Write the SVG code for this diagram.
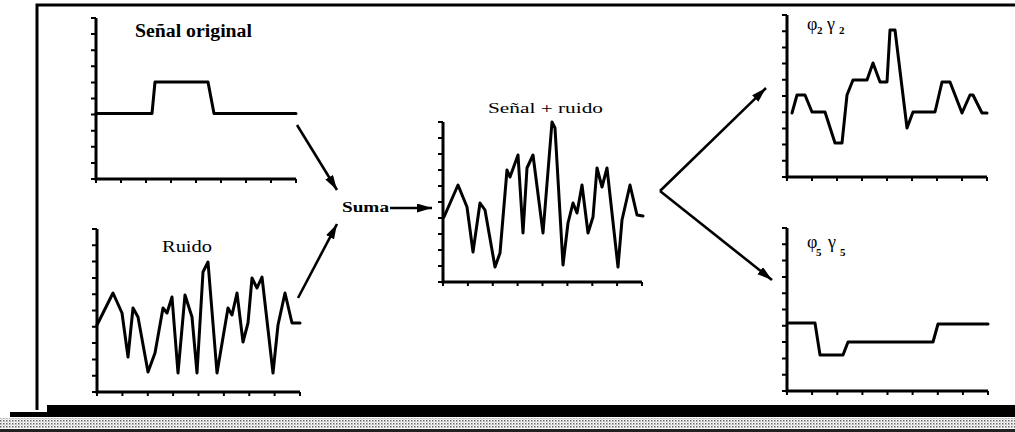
<svg xmlns="http://www.w3.org/2000/svg" width="1015" height="432" viewBox="0 0 1015 432">
<style>
.axis{fill:none;stroke:#000;stroke-width:3;stroke-linejoin:miter}
.tick{fill:none;stroke:#000;stroke-width:2}
.curve{fill:none;stroke:#000;stroke-width:3;stroke-linejoin:round;stroke-linecap:round}
.lbl{font-family:"Liberation Serif","Times New Roman",serif;fill:#000}
.conn{fill:none;stroke:#000;stroke-width:2.6}
</style>
<defs>
<marker id="ah" markerUnits="userSpaceOnUse" markerWidth="16" markerHeight="10" refX="15" refY="4.5" orient="auto">
<path d="M0,0 L15,4.5 L0,9 z" fill="#000"/>
</marker>
<pattern id="dots" width="3" height="3" patternUnits="userSpaceOnUse">
<rect width="3" height="3" fill="#fff"/>
<rect width="1.5" height="1.5" fill="#666"/>
<rect x="1.5" y="1.5" width="1" height="1" fill="#999"/>
</pattern>
</defs>
<rect width="1015" height="432" fill="#fff"/>
<g id="frame">
<path d="M37,410 V5 H1015" fill="none" stroke="#000" stroke-width="3"/>
<rect x="47" y="405" width="968" height="12" fill="#000"/>
<rect x="10" y="412" width="40" height="5" fill="#000"/>
<rect x="0" y="418" width="1015" height="10" fill="url(#dots)"/>
<rect x="0" y="429" width="1015" height="3" fill="#222"/>
</g>
<g id="senal-original">
<path class="axis" d="M96,18 V179 H296"/>
<path class="tick" d="M91,18h5M91,34.1h5M91,50.2h5M91,66.3h5M91,82.4h5M91,98.5h5M91,114.6h5M91,130.7h5M91,146.8h5M91,162.9h5M91,179h5M96,179v4M121,179v4M146,179v4M171,179v4M196,179v4M221,179v4M246,179v4M271,179v4M296,179v4"/>
<path class="curve" d="M96,113.5 H152 L155,82 H208 L214,113.5 H296"/>
<text class="lbl" x="135" y="37" font-size="18" font-weight="bold" textLength="117" lengthAdjust="spacingAndGlyphs">Señal original</text>
</g>
<g id="ruido">
<path class="axis" d="M97,229 V392 H300"/>
<path class="tick" d="M92,229h5M92,245.3h5M92,261.6h5M92,277.9h5M92,294.2h5M92,310.5h5M92,326.8h5M92,343.1h5M92,359.4h5M92,375.7h5M92,392h5M97,392v4M122.4,392v4M147.8,392v4M173.1,392v4M198.5,392v4M223.9,392v4M249.3,392v4M274.6,392v4M300,392v4"/>
<path class="curve" d="M97,325 L113,293 L122,313 L128,357 L133,308 L138,317 L148,372 L155,353 L163,308 L167,313 L172,297 L178,373 L185,295 L192,317 L197,373 L203,272 L208,262 L217,373 L228,308 L232,315 L237,293 L243,342 L248,323 L252,278 L257,288 L262,277 L273,373 L278,325 L285,293 L292,323 L300,323"/>
<text class="lbl" x="162" y="252" font-size="16" textLength="50" lengthAdjust="spacingAndGlyphs">Ruido</text>
</g>
<g id="suma">
<text class="lbl" x="342" y="212" font-size="15" font-weight="bold" textLength="47" lengthAdjust="spacingAndGlyphs">Suma</text>
</g>
<g id="senal-ruido">
<path class="axis" d="M443,122 V282 H642"/>
<path class="tick" d="M438,122h5M438,138h5M438,154h5M438,170h5M438,186h5M438,202h5M438,218h5M438,234h5M438,250h5M438,266h5M438,282h5M443,282v4M467.9,282v4M492.8,282v4M517.6,282v4M542.5,282v4M567.4,282v4M592.3,282v4M617.1,282v4M642,282v4"/>
<path class="curve" d="M444,217 L458,185 L467,207 L473,252 L480,203 L485,210 L495,267 L500,253 L507,170 L510,177 L518,155 L523,233 L527,168 L533,155 L543,233 L552,122 L555,128 L563,265 L568,223 L573,203 L577,213 L582,185 L588,233 L593,217 L597,168 L602,187 L607,168 L618,267 L622,220 L630,185 L637,215 L643,216"/>
<text class="lbl" x="488" y="113" font-size="15" textLength="115" lengthAdjust="spacingAndGlyphs">Señal + ruido</text>
</g>
<g id="phi2">
<path class="axis" d="M787,15 V177 H987"/>
<path class="tick" d="M782,15h5M782,31.2h5M782,47.4h5M782,63.6h5M782,79.8h5M782,96h5M782,112.2h5M782,128.4h5M782,144.6h5M782,160.8h5M782,177h5M787,177v4M812,177v4M837,177v4M862,177v4M887,177v4M912,177v4M937,177v4M962,177v4M987,177v4"/>
<path class="curve" d="M792,113 L797,95 L805,95 L812,112 L825,112 L835,143 L842,143 L847,95 L853,80 L867,80 L873,63 L880,82 L887,82 L890,30 L895,30 L907,128 L913,112 L935,112 L942,82 L950,82 L962,113 L970,95 L973,95 L982,113 L987,113"/>
<text class="lbl" font-size="18"><tspan x="807" y="30">φ</tspan><tspan x="817" y="34" font-size="11" font-weight="bold">2</tspan><tspan x="827" y="30">γ</tspan><tspan x="839" y="34" font-size="11" font-weight="bold">2</tspan></text>
</g>
<g id="phi5">
<path class="axis" d="M787,228 V391 H988"/>
<path class="tick" d="M782,228h5M782,244.3h5M782,260.6h5M782,276.9h5M782,293.2h5M782,309.5h5M782,325.8h5M782,342.1h5M782,358.4h5M782,374.7h5M782,391h5M787,391v4M812.1,391v4M837.3,391v4M862.4,391v4M887.5,391v4M912.6,391v4M937.8,391v4M962.9,391v4M988,391v4"/>
<path class="curve" d="M789,323 H815 L820,355 H843 L848,342 H933 L938,324 H988"/>
<text class="lbl" font-size="18"><tspan x="807" y="248">φ</tspan><tspan x="816" y="256" font-size="11" font-weight="bold">5</tspan><tspan x="828" y="248">γ</tspan><tspan x="840" y="256" font-size="11" font-weight="bold">5</tspan></text>
</g>
<g id="connectors">
<path class="conn" d="M297,125 L337,190" marker-end="url(#ah)"/>
<path class="conn" d="M298,298 L337,224" marker-end="url(#ah)"/>
<path class="conn" d="M390,208 L432,208" marker-end="url(#ah)"/>
<path class="conn" d="M660,191 L766,88" marker-end="url(#ah)"/>
<path class="conn" d="M660,191 L772,280" marker-end="url(#ah)"/>
</g>
</svg>
